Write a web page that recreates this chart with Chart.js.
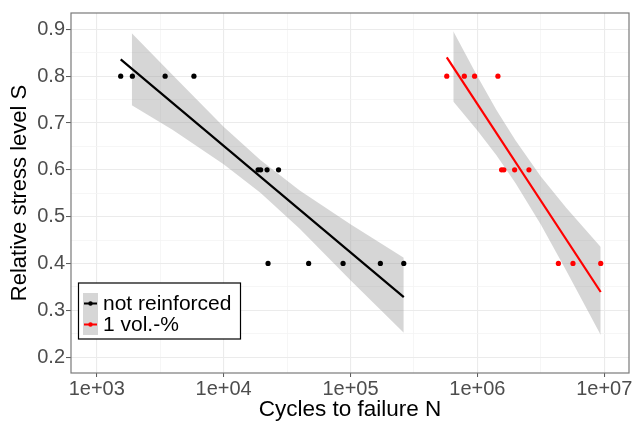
<!DOCTYPE html>
<html lang="en">
<head>
    <meta charset="UTF-8">
    <title>S-N curves</title>
    <script src="https://cdn.jsdelivr.net/npm/chart.js@4.4.1/dist/chart.umd.min.js"></script>
    <style>
        html, body { margin: 0; padding: 0; background: #fff; }
        #wrap { width: 633px; height: 421px; }
    </style>
</head>
<body>
    <div id="wrap"><canvas id="snChart" width="633" height="421"></canvas></div>
    <script>
        // measured points: cycles to failure N and relative stress level S
        var blackN = [1545, 1910, 3460, 5835, 18700, 19600, 22000, 27100, 22400, 46800, 87400, 172000, 263000];
        var blackS = [0.8, 0.8, 0.8, 0.8, 0.6, 0.6, 0.6, 0.6, 0.4, 0.4, 0.4, 0.4, 0.4];
        var redN = [574000, 789000, 951000, 1452000, 1552000, 1618000, 1966000, 2550000, 4350000, 5670000, 9380000];
        var redS = [0.8, 0.8, 0.8, 0.8, 0.6, 0.6, 0.6, 0.6, 0.4, 0.4, 0.4];

        // fitted lines (end points)
        var blackFitN = [1545, 263000];
        var blackFitS = [0.836, 0.328];
        var redFitN = [574000, 9380000];
        var redFitS = [0.840, 0.339];

        // confidence bands
        var blackBandN = [1890, 3981, 10000, 19500, 39810, 100000, 263000];
        var blackBandLo = [0.738, 0.685, 0.612, 0.551, 0.474, 0.364, 0.252];
        var blackBandHi = [0.892, 0.802, 0.692, 0.621, 0.556, 0.484, 0.412];
        var redBandN = [646000, 1000000, 1413000, 1995000, 3162000, 5012000, 9380000];
        var redBandLo = [0.746, 0.684, 0.631, 0.572, 0.483, 0.385, 0.247];
        var redBandHi = [0.896, 0.800, 0.728, 0.663, 0.586, 0.519, 0.435];

        // axis ticks
        var xMajor = [1e3, 1e4, 1e5, 1e6, 1e7];
        var xLabels = ['1e+03', '1e+04', '1e+05', '1e+06', '1e+07'];
        var yMajor = [0.2, 0.3, 0.4, 0.5, 0.6, 0.7, 0.8, 0.9];

        function pts(xs, ys) {
            return xs.map(function(x, i) { return { x: x, y: ys[i] }; });
        }

        var bandFill = 'rgba(153, 153, 153, 0.4)';

        function isMajorX(v) {
            return xMajor.some(function(m) { return Math.abs(m - v) / m < 1e-6; });
        }
        function isMajorY(v) {
            return yMajor.some(function(m) { return Math.abs(m - v) < 1e-6; });
        }

        var frameAndLegend = {
            id: 'frameAndLegend',
            afterDraw: function(chart) {
                var ctx = chart.ctx, a = chart.chartArea;
                ctx.save();
                ctx.strokeStyle = '#7a7a7a';
                ctx.lineWidth = 1.2;
                ctx.strokeRect(a.left, a.top, a.right - a.left, a.bottom - a.top);

                // legend box
                var bx = 78.5, by = 283, bw = 162, bh = 56;
                ctx.fillStyle = '#fff';
                ctx.fillRect(bx, by, bw, bh);
                ctx.strokeStyle = '#000';
                ctx.lineWidth = 1.2;
                ctx.strokeRect(bx, by, bw, bh);

                var items = [
                    { text: 'not reinforced', color: '#000', y: 303.5 },
                    { text: '1 vol.-%', color: '#ff0000', y: 324.5 }
                ];
                ctx.fillStyle = bandFill;
                ctx.fillRect(83, 293, 15, 42);
                items.forEach(function(it) {
                    ctx.strokeStyle = it.color;
                    ctx.lineWidth = 2;
                    ctx.beginPath();
                    ctx.moveTo(84, it.y);
                    ctx.lineTo(97, it.y);
                    ctx.stroke();
                    ctx.fillStyle = it.color;
                    ctx.beginPath();
                    ctx.arc(90.5, it.y, 2.2, 0, Math.PI * 2);
                    ctx.fill();
                    ctx.fillStyle = '#000';
                    ctx.font = '21px "Liberation Sans", Arial, sans-serif';
                    ctx.textBaseline = 'middle';
                    ctx.textAlign = 'left';
                    ctx.fillText(it.text, 103, it.y + 1);
                });
                ctx.restore();
            }
        };

        var ctx = document.getElementById('snChart').getContext('2d');
        var chart = new Chart(ctx, {
            type: 'scatter',
            data: {
                datasets: [
                    { data: pts(blackN, blackS), backgroundColor: '#000', borderColor: '#000', pointRadius: 2.6, pointBorderWidth: 0, order: 0 },
                    { data: pts(redN, redS), backgroundColor: '#ff0000', borderColor: '#ff0000', pointRadius: 2.6, pointBorderWidth: 0, order: 0 },
                    { data: pts(blackFitN, blackFitS), showLine: true, borderColor: '#000', borderWidth: 2.2, pointRadius: 0, order: 1 },
                    { data: pts(redFitN, redFitS), showLine: true, borderColor: '#ff0000', borderWidth: 2.2, pointRadius: 0, order: 1 },
                    { data: pts(blackBandN, blackBandHi), showLine: true, borderWidth: 0, borderColor: 'rgba(0,0,0,0)', pointRadius: 0, fill: '+1', backgroundColor: bandFill, order: 2 },
                    { data: pts(blackBandN, blackBandLo), showLine: true, borderWidth: 0, borderColor: 'rgba(0,0,0,0)', pointRadius: 0, fill: false, order: 2 },
                    { data: pts(redBandN, redBandHi), showLine: true, borderWidth: 0, borderColor: 'rgba(0,0,0,0)', pointRadius: 0, fill: '+1', backgroundColor: bandFill, order: 2 },
                    { data: pts(redBandN, redBandLo), showLine: true, borderWidth: 0, borderColor: 'rgba(0,0,0,0)', pointRadius: 0, fill: false, order: 2 }
                ]
            },
            options: {
                responsive: false,
                animation: false,
                layout: { padding: { left: 0, top: 12, right: 4, bottom: 0 } },
                plugins: {
                    legend: { display: false },
                    tooltip: { enabled: false }
                },
                scales: {
                    x: {
                        type: 'logarithmic',
                        min: 627,
                        max: 15670000,
                        afterBuildTicks: function(scale) {
                            scale.ticks = [1e3, 3162.3, 1e4, 31623, 1e5, 316228, 1e6, 3162278, 1e7]
                                .map(function(v) { return { value: v }; });
                        },
                        afterFit: function(scale) { scale.height = 48; },
                        border: { display: false },
                        grid: {
                            color: function(c) { return c.tick && isMajorX(c.tick.value) ? '#ebebeb' : '#f4f4f4'; },
                            lineWidth: function(c) { return c.tick && isMajorX(c.tick.value) ? 1.1 : 0.8; },
                            tickColor: function(c) { return c.tick && isMajorX(c.tick.value) ? '#555' : 'rgba(0,0,0,0)'; },
                            tickLength: 4,
                            tickWidth: 1
                        },
                        ticks: {
                            autoSkip: false,
                            maxRotation: 0,
                            padding: 0,
                            color: '#4d4d4d',
                            font: { family: '"Liberation Sans", Arial, sans-serif', size: 20 },
                            callback: function(v) {
                                var i = xMajor.findIndex(function(m) { return Math.abs(m - v) / m < 1e-6; });
                                return i >= 0 ? xLabels[i] : '';
                            }
                        },
                        title: {
                            display: true,
                            text: 'Cycles to failure N',
                            color: '#000',
                            padding: { top: 0, bottom: 0 },
                            font: { family: '"Liberation Sans", Arial, sans-serif', size: 22.5, lineHeight: 1 }
                        }
                    },
                    y: {
                        type: 'linear',
                        min: 0.166,
                        max: 0.935,
                        afterBuildTicks: function(scale) {
                            scale.ticks = [0.2, 0.25, 0.3, 0.35, 0.4, 0.45, 0.5, 0.55, 0.6, 0.65, 0.7, 0.75, 0.8, 0.85, 0.9]
                                .map(function(v) { return { value: v }; });
                        },
                        afterFit: function(scale) { scale.width = 71; },
                        border: { display: false },
                        grid: {
                            color: function(c) { return c.tick && isMajorY(c.tick.value) ? '#ebebeb' : '#f4f4f4'; },
                            lineWidth: function(c) { return c.tick && isMajorY(c.tick.value) ? 1.1 : 0.8; },
                            tickColor: function(c) { return c.tick && isMajorY(c.tick.value) ? '#555' : 'rgba(0,0,0,0)'; },
                            tickLength: 5,
                            tickWidth: 1
                        },
                        ticks: {
                            autoSkip: false,
                            padding: 1,
                            color: '#4d4d4d',
                            font: { family: '"Liberation Sans", Arial, sans-serif', size: 20 },
                            callback: function(v) { return isMajorY(v) ? v.toFixed(1) : ''; }
                        },
                        title: {
                            display: true,
                            text: 'Relative stress level S',
                            color: '#000',
                            padding: { top: 9, bottom: 0 },
                            font: { family: '"Liberation Sans", Arial, sans-serif', size: 22, lineHeight: 1 }
                        }
                    }
                }
            },
            plugins: [frameAndLegend]
        });
    </script>
</body>
</html>
